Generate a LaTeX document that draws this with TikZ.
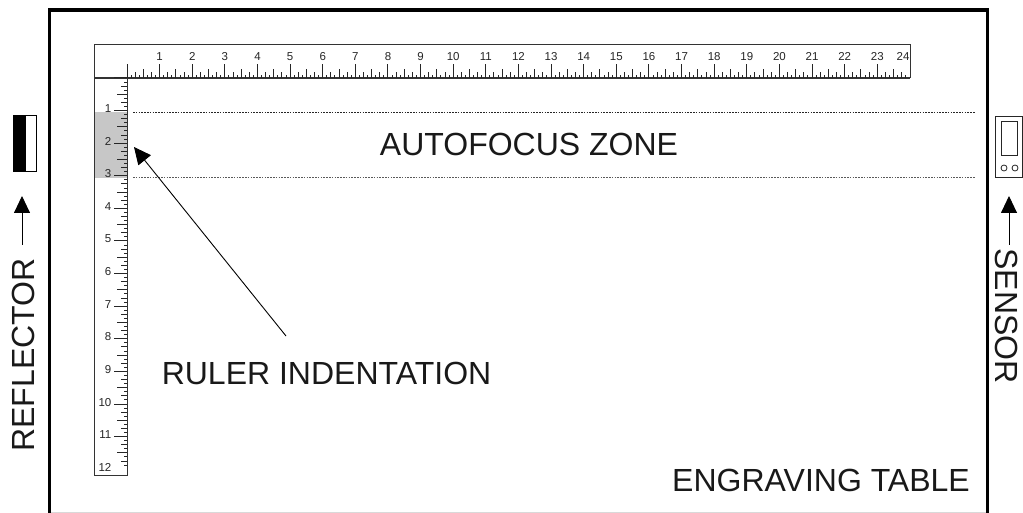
\documentclass[tikz,border=0pt]{standalone}
\usepackage{fontspec}
\setmainfont{Liberation Sans}
\usetikzlibrary{arrows.meta}
\tikzset{
  x=1pt,y=-1pt,
  biglabel/.style={font=\fontsize{32}{32}\selectfont,inner sep=0pt,text=black!90},
  rulernum/.style={font=\fontsize{11.5}{12}\selectfont,inner sep=0pt,text=black!85,text height=8pt,text depth=0pt},
  rulerline/.style={draw=black!80,line width=1pt},
  tickmark/.style={draw=black!85,line width=1pt},
  zoneline/.style={draw=black!85,line width=0.9pt,dash pattern=on 1.6pt off 1.2pt},
  pointer/.style={draw=black,line width=0.9pt,-{Triangle[length=17pt,width=16pt]}},
}
\begin{document}
\begin{tikzpicture}
\useasboundingbox (0,0) rectangle (1023,513);
% table
\fill[white] (0,0) rectangle (1023,513);
\draw[black!15,line width=0.8pt] (49,512.4) -- (987,512.4);
\draw[black,line width=3.2pt] (49.5,513) -- (49.5,10) -- (987.5,10) -- (987.5,513);
% indentation
\fill[black!22] (95,112) rectangle (127,178);
% ruler outline
\draw[rulerline] (910,78) -- (910,45) -- (94.5,45) -- (94.5,475) -- (127,475) -- (127,78);
\draw[black!80,line width=1.4pt] (94.5,78) -- (910,78);
% horizontal ticks
\foreach \i in {0,...,191}{
  \pgfmathtruncatemacro{\m}{mod(\i,8)}
  \pgfmathsetmacro{\len}{\m==0?14:(\m==4?9:(mod(\m,2)==0?6:3))}
  \pgfmathsetmacro{\xx}{127+\i*32.62/8}
  \draw[tickmark] (\xx,78) -- (\xx,78-\len);
}
% vertical ticks
\foreach \i in {0,...,95}{
  \pgfmathtruncatemacro{\m}{mod(\i,8)}
  \pgfmathsetmacro{\len}{\m==0?13:(\m==4?10:(mod(\m,2)==0?6:3))}
  \pgfmathsetmacro{\yy}{78+\i*32.6/8}
  \draw[tickmark] (127,\yy) -- (127-\len,\yy);
}
\foreach \n in {1,...,23}{
  \pgfmathsetmacro{\xx}{127+\n*32.62}
  \node[rulernum] (h\n) at (\xx,57) {\n};
}
\node[rulernum] (h24) at (903,57) {24};
\foreach \n in {1,...,12}{
  \pgfmathsetmacro{\yy}{78+\n*32.6}
  \node[rulernum,anchor=east] (v\n) at (111.5,\yy-2) {\n};
}
% zone
\coordinate (z1a) at (133,112); \coordinate (z1b) at (975,112);
\coordinate (z2a) at (133,177); \coordinate (z2b) at (975,177);
\draw[zoneline] (z1a) -- (z1b);
\draw[zoneline,draw=black!65] (z2a) -- (z2b);
% labels
\node[biglabel] (zone) at (529,144) {AUTOFOCUS ZONE};
\node[biglabel] (indent) at (326.5,373) {RULER INDENTATION};
\node[biglabel] (table) at (821,480) {ENGRAVING TABLE};
\node[biglabel,rotate=90] (refl) at (23,355) {REFLECTOR};
\node[biglabel,rotate=-90] (sens) at (1007,316) {SENSOR};
% pointer
\coordinate (ps) at (286,336); \coordinate (pe) at (134,147);
\draw[pointer] (ps) -- (pe);
% reflector
\draw[black,line width=1pt] (13.5,115.5) rectangle (36,172);
\fill[black] (13,115) rectangle (26,172.5);
\coordinate (ra) at (22,245); \coordinate (rb) at (22,196);
\draw[pointer] (ra) -- (rb);
% sensor
\draw[black!85,line width=0.9pt] (995.5,116) rectangle (1022,177);
\draw[black!85,line width=0.9pt] (1001.5,121.5) rectangle (1017,155.5);
\draw[black!85,line width=0.8pt] (1004,168) circle (3);
\draw[black!85,line width=0.8pt] (1015,168) circle (3);
\coordinate (sa) at (1009,245); \coordinate (sb) at (1009,196);
\draw[pointer] (sa) -- (sb);
\end{tikzpicture}
\end{document}
